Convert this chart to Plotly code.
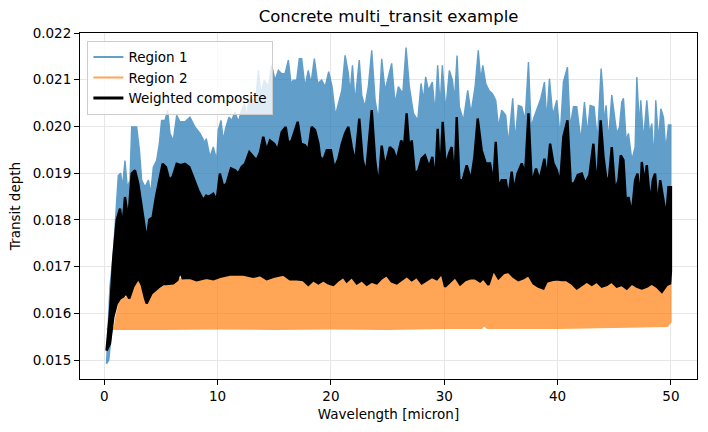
import plotly.graph_objects as go

# ---------------- data ----------------
# Region 1: upper envelope of the dense spectrum
R1_UP_X = [0.2, 0.5, 0.8, 1.1, 1.24, 1.45, 1.6, 1.83, 2.03, 2.27, 2.42, 2.86, 3.1, 3.3, 3.6, 3.9,
           4.09, 4.33, 4.62, 4.86, 5.06, 5.36, 5.59, 5.8, 6.09, 6.39, 6.68, 7.12, 7.56, 8.0, 8.45,
           8.89, 9.0, 9.33, 9.62, 9.92, 10.06, 10.3, 10.5, 10.7, 11.0, 11.24, 11.54, 11.83, 12.07,
           12.36, 12.57, 12.77, 13.0, 13.3, 13.6, 13.83, 14.12, 14.48, 14.77, 15.07, 15.36, 15.66,
           15.95, 16.24, 16.48, 16.68, 16.98, 17.21, 17.42, 17.71, 18.0, 18.24, 18.54, 18.83, 19.18,
           19.5, 19.8, 20.1, 20.4, 20.66, 20.96, 21.25, 21.54, 21.69, 21.9, 22.13, 22.5, 22.72, 23.0,
           23.3, 23.6, 23.9, 24.2, 24.48, 24.77, 25.07, 25.36, 25.66, 25.95, 26.34, 26.63, 26.92,
           27.28, 27.66, 27.95, 28.16, 28.36, 28.6, 28.95, 29.19, 29.42, 29.63, 29.83, 30.13, 30.45,
           30.72, 30.9, 31.13, 31.33, 31.69, 32.07, 32.36, 32.72, 33.0, 33.22, 33.4, 33.66, 33.95,
           34.25, 34.54, 34.78, 35.07, 35.42, 35.66, 36.04, 36.25, 36.54, 36.84, 37.13, 37.43, 37.66,
           37.93, 38.22, 38.52, 38.84, 39.04, 39.28, 39.57, 39.93, 40.22, 40.51, 40.87, 41.1, 41.4,
           41.69, 42.05, 42.37, 42.63, 42.87, 43.22, 43.51, 43.84, 43.99, 44.1, 44.28, 44.49, 44.78,
           44.99, 45.22, 45.46, 45.66, 45.81, 46.05, 46.25, 46.55, 46.84, 46.99, 47.22, 47.34, 47.58,
           47.87, 48.11, 48.31, 48.52, 48.66, 48.9, 49.11, 49.34, 49.55, 49.78, 49.99]
R1_UP_Y = [0.01492, 0.01657, 0.01728, 0.01842, 0.01895, 0.0190, 0.0187, 0.01927, 0.0187, 0.01885,
           0.01999, 0.01999, 0.0195, 0.01885, 0.0187, 0.01885, 0.01856, 0.01913, 0.01927, 0.01963,
           0.02013, 0.02013, 0.02035, 0.01985, 0.0197, 0.02024, 0.0201, 0.0201, 0.0202, 0.01999,
           0.01985, 0.01965, 0.01974, 0.01935, 0.01956, 0.01928, 0.01992, 0.02013, 0.0197, 0.01995,
           0.0202, 0.02013, 0.02031, 0.0201, 0.02031, 0.02049, 0.0202, 0.02056, 0.02063, 0.02042,
           0.0212, 0.0207, 0.02099, 0.02085, 0.02131, 0.02099, 0.0212, 0.02113, 0.02113, 0.02142,
           0.02092, 0.02099, 0.02099, 0.02145, 0.02145, 0.02085, 0.0212, 0.02092, 0.02145, 0.02092,
           0.02099, 0.02085, 0.02117, 0.02085, 0.02024, 0.02049, 0.02077, 0.02152, 0.02113, 0.0207,
           0.02131, 0.02052, 0.02142, 0.02067, 0.02042, 0.02085, 0.02163, 0.02056, 0.02013, 0.02145,
           0.02077, 0.02106, 0.02135, 0.02049, 0.02085, 0.0207, 0.02169, 0.02085, 0.02028, 0.02013,
           0.02092, 0.02056, 0.02106, 0.02077, 0.02095, 0.02028, 0.02131, 0.02042, 0.02131, 0.02035,
           0.0212, 0.02099, 0.02056, 0.02152, 0.02042, 0.02013, 0.02077, 0.02028, 0.02085, 0.02163,
           0.02099, 0.02131, 0.02092, 0.02077, 0.0207, 0.02056, 0.01999, 0.02035, 0.02024, 0.01963,
           0.0206, 0.0197, 0.02045, 0.02042, 0.02013, 0.02138, 0.01999, 0.0202, 0.02042, 0.0206,
           0.02095, 0.02013, 0.02102, 0.02024, 0.02056, 0.01978, 0.02095, 0.02127, 0.01999, 0.02042,
           0.02042, 0.0197, 0.02052, 0.01985, 0.02045, 0.02042, 0.0197, 0.02124, 0.02077, 0.02006,
           0.02045, 0.0197, 0.02067, 0.02031, 0.01985, 0.01999, 0.02052, 0.0206, 0.0197, 0.01985,
           0.01928, 0.01956, 0.02106, 0.01999, 0.02056, 0.0197, 0.02056, 0.01985, 0.02006, 0.01928,
           0.02056, 0.0197, 0.02038, 0.0202, 0.01949, 0.02003, 0.02003]
# Region 1: lower envelope (mostly hidden behind the composite)
R1_LO_X = [0.2, 0.4, 0.8, 1.2, 2.0, 10.0, 20.0, 30.0, 40.0, 49.99]
R1_LO_Y = [0.01492, 0.0150, 0.0160, 0.0168, 0.0170, 0.0170, 0.0170, 0.0170, 0.0170, 0.0170]

# Region 2: upper and lower envelopes
R2_UP_X = [0.2, 0.9, 1.03, 1.39, 1.98, 2.56, 3.0, 3.3, 3.74, 4.18, 4.92, 5.8, 6.68, 7.86, 9.0,
           10.0, 12.0, 14.0, 16.0, 18.0, 20.0, 22.0, 24.0, 26.0, 28.0, 30.0, 32.0, 34.0, 36.0,
           38.0, 40.0, 42.0, 44.0, 46.0, 48.0, 49.9, 50.0]
R2_UP_Y = [0.01566, 0.0157, 0.01592, 0.01628, 0.01635, 0.0165, 0.01674, 0.01657, 0.0162, 0.01642,
           0.01653, 0.01664, 0.01674, 0.01678, 0.0168, 0.01682, 0.01684, 0.01686, 0.01684, 0.01682,
           0.01683, 0.01681, 0.01684, 0.01683, 0.01682, 0.01685, 0.01682, 0.01684, 0.01686, 0.01683,
           0.01684, 0.01682, 0.01684, 0.01683, 0.01682, 0.01681, 0.01700]
R2_LO_X = [0.2, 5.0, 10.0, 15.0, 20.0, 25.0, 30.0, 33.3, 33.5, 33.8, 40.0, 45.0, 49.7, 50.0]
R2_LO_Y = [0.01566, 0.01566, 0.01567, 0.01566, 0.01567, 0.01566, 0.01568, 0.01568, 0.01574, 0.01568,
           0.01568, 0.0157, 0.01572, 0.01582]

# Weighted composite: upper and lower envelopes
WC_UP_X = [0.2, 0.5, 0.8, 1.1, 1.39, 1.6, 1.83, 2.12, 2.42, 2.71, 3.0, 3.3, 3.6, 3.74, 3.97, 4.27,
           4.56, 4.86, 5.15, 5.44, 5.74, 6.03, 6.39, 6.74, 7.12, 7.5, 7.86, 8.3, 8.74, 9.0, 9.18,
           9.62, 9.92, 10.2, 10.5, 10.8, 11.18, 11.54, 11.83, 12.12, 12.42, 12.8, 13.15, 13.45,
           13.74, 14.03, 14.33, 14.62, 15.0, 15.3, 15.66, 16.01, 16.24, 16.54, 17.07, 17.36, 17.71,
           18.0, 18.3, 18.6, 18.9, 19.04, 19.33, 19.63, 20.0, 20.3, 20.66, 20.96, 21.25, 21.54,
           21.84, 22.13, 22.5, 22.8, 23.1, 23.3, 23.6, 23.9, 24.2, 24.48, 24.77, 25.2, 25.5, 25.8,
           26.2, 26.45, 26.68, 26.92, 27.13, 27.4, 27.72, 28.0, 28.3, 28.66, 28.95, 29.19, 29.42,
           29.63, 29.86, 30.13, 30.42, 30.66, 30.9, 31.1, 31.33, 31.63, 31.98, 32.36, 32.66, 32.95,
           33.3, 33.66, 34.04, 34.33, 34.54, 34.78, 35.07, 35.42, 35.66, 35.95, 36.15, 36.46, 36.84,
           37.13, 37.43, 37.72, 38.1, 38.4, 38.6, 38.84, 39.04, 39.34, 39.63, 39.93, 40.22, 40.51,
           40.87, 41.16, 41.46, 41.78, 42.13, 42.43, 42.81, 43.16, 43.46, 43.8, 44.05, 44.28, 44.49,
           44.78, 45.07, 45.37, 45.57, 45.81, 46.05, 46.25, 46.55, 46.84, 47.05, 47.28, 47.43,
           47.66, 47.87, 48.17, 48.4, 48.6, 48.81, 49.05, 49.34, 49.58, 49.78, 50.0]
WC_UP_Y = [0.0152, 0.016, 0.0172, 0.018, 0.01824, 0.01785, 0.01849, 0.018, 0.01899, 0.01906,
           0.01878, 0.01828, 0.01778, 0.01756, 0.018, 0.01806, 0.01849, 0.01885, 0.0192, 0.01913,
           0.01885, 0.01892, 0.0192, 0.01917, 0.0192, 0.01913, 0.01892, 0.01863, 0.01842, 0.01852,
           0.01849, 0.01856, 0.01842, 0.01899, 0.01871, 0.01878, 0.0191, 0.01906, 0.01899, 0.01913,
           0.0192, 0.01945, 0.01935, 0.01928, 0.01945, 0.01978, 0.01949, 0.0197, 0.01963, 0.01949,
           0.01988, 0.01999, 0.01963, 0.0197, 0.0201, 0.01963, 0.0196, 0.01949, 0.01999, 0.01992,
           0.01963, 0.01935, 0.01928, 0.01949, 0.01949, 0.0191, 0.01931, 0.01963, 0.01985, 0.01999,
           0.01956, 0.01921, 0.02017, 0.01928, 0.01899, 0.01949, 0.02035, 0.01928, 0.0187, 0.01959,
           0.01913, 0.01956, 0.01949, 0.01928, 0.0197, 0.01956, 0.02028, 0.01949, 0.0197, 0.01899,
           0.01906, 0.01931, 0.01938, 0.01913, 0.01935, 0.01878, 0.01995, 0.01885, 0.0201, 0.01913,
           0.01942, 0.01956, 0.01878, 0.0202, 0.01885, 0.01885, 0.01917, 0.01885, 0.01935, 0.02017,
           0.01949, 0.01921, 0.01921, 0.01878, 0.01967, 0.0187, 0.01885, 0.01885, 0.01849, 0.01903,
           0.01862, 0.01899, 0.01921, 0.01896, 0.02028, 0.01878, 0.0191, 0.01885, 0.01906, 0.01931,
           0.01885, 0.01963, 0.01921, 0.01906, 0.01878, 0.01978, 0.02013, 0.01878, 0.01878, 0.01896,
           0.01899, 0.01878, 0.01896, 0.01963, 0.01863, 0.02013, 0.01935, 0.01892, 0.01878, 0.01956,
           0.01863, 0.01885, 0.01938, 0.01928, 0.01828, 0.01849, 0.01813, 0.01885, 0.01899, 0.01842,
           0.01924, 0.01878, 0.01917, 0.01835, 0.01885, 0.01899, 0.01828, 0.01885, 0.01842, 0.01806,
           0.0187, 0.0187]
WC_LO_X = [0.2, 0.5, 0.8, 1.1, 1.39, 1.68, 1.92, 2.21, 2.56, 3.0, 3.3, 3.6, 3.74, 4.18, 4.77, 5.21,
           6.09, 6.45, 6.68, 6.92, 7.56, 8.15, 9.03, 9.62, 10.21, 11.09, 12.27, 13.15, 13.74, 14.33,
           14.92, 15.8, 16.39, 16.98, 17.56, 18.0, 18.45, 18.89, 19.33, 19.77, 20.21, 20.66, 21.1,
           21.39, 21.84, 22.28, 22.72, 23.16, 23.6, 24.04, 24.48, 24.92, 25.36, 25.8, 26.25, 26.69,
           27.13, 27.57, 28.01, 28.46, 28.9, 29.34, 29.78, 30.07, 30.51, 30.96, 31.4, 31.84, 32.28,
           32.72, 33.16, 33.45, 33.9, 34.34, 34.78, 35.22, 35.66, 36.1, 36.54, 36.99, 37.43, 37.87,
           38.31, 38.75, 39.04, 39.49, 39.93, 40.37, 40.81, 41.25, 41.69, 42.13, 42.57, 43.02, 43.46,
           43.9, 44.34, 44.78, 45.22, 45.66, 46.1, 46.55, 46.99, 47.43, 47.87, 48.31, 48.75, 49.2,
           49.64, 49.93, 50.0]
WC_LO_Y = [0.0152, 0.01535, 0.01592, 0.0162, 0.01632, 0.01636, 0.01643, 0.01632, 0.01657, 0.01675,
           0.01661, 0.01632, 0.01621, 0.01643, 0.01655, 0.01662, 0.01664, 0.01671, 0.01689, 0.01675,
           0.01676, 0.01671, 0.01676, 0.01673, 0.01678, 0.01683, 0.01683, 0.01678, 0.01682, 0.01673,
           0.01678, 0.01683, 0.01673, 0.01673, 0.01671, 0.01661, 0.01671, 0.01664, 0.01671, 0.01664,
           0.01661, 0.01671, 0.01678, 0.01668, 0.01678, 0.01664, 0.01671, 0.01661, 0.01668, 0.01664,
           0.01675, 0.01682, 0.01668, 0.01664, 0.01673, 0.0168, 0.01671, 0.01678, 0.01664, 0.01671,
           0.01678, 0.01673, 0.01686, 0.01657, 0.01668, 0.01678, 0.01662, 0.01671, 0.01675, 0.01675,
           0.01668, 0.01675, 0.01661, 0.01693, 0.01675, 0.01686, 0.01689, 0.01678, 0.01671, 0.01675,
           0.01682, 0.01664, 0.01657, 0.01653, 0.01668, 0.01671, 0.01673, 0.01671, 0.01671, 0.01664,
           0.01653, 0.01661, 0.01668, 0.01661, 0.01668, 0.01657, 0.01661, 0.01668, 0.01657, 0.01661,
           0.01653, 0.01664, 0.01657, 0.01653, 0.01657, 0.01664, 0.01657, 0.01646, 0.01661, 0.01664,
           0.01690]

SERIES_NAMES = ["Region 1", "Region 2", "Weighted composite"]
X_TICKS = [0, 10, 20, 30, 40, 50]
Y_TICKS = [0.015, 0.016, 0.017, 0.018, 0.019, 0.020, 0.021, 0.022]

# ---------------- styling ----------------
C_BLUE = "#1f77b4"
C_ORANGE = "#ff7f0e"
C_BLACK = "#000000"
FONT = "DejaVu Sans"


def band(xu, yu, xl, yl):
    return list(xu) + list(reversed(xl)), list(yu) + list(reversed(yl))


fig = go.Figure()

bx, by = band(R1_UP_X, R1_UP_Y, R1_LO_X, R1_LO_Y)
fig.add_trace(go.Scatter(x=bx, y=by, mode="lines", fill="toself", fillcolor=C_BLUE,
                         line=dict(color=C_BLUE, width=1.4), opacity=0.7,
                         showlegend=False, hoverinfo="skip"))
ox, oy = band(R2_UP_X, R2_UP_Y, R2_LO_X, R2_LO_Y)
fig.add_trace(go.Scatter(x=ox, y=oy, mode="lines", fill="toself", fillcolor=C_ORANGE,
                         line=dict(color=C_ORANGE, width=1.4), opacity=0.7,
                         showlegend=False, hoverinfo="skip"))
kx, ky = band(WC_UP_X, WC_UP_Y, WC_LO_X, WC_LO_Y)
fig.add_trace(go.Scatter(x=kx, y=ky, mode="lines", fill="toself", fillcolor=C_BLACK,
                         line=dict(color=C_BLACK, width=2.4),
                         showlegend=False, hoverinfo="skip"))

# legend entries
for name, col, w, op in [(SERIES_NAMES[0], C_BLUE, 2, 0.7),
                         (SERIES_NAMES[1], C_ORANGE, 2, 0.7),
                         (SERIES_NAMES[2], C_BLACK, 2.8, 1.0)]:
    fig.add_trace(go.Scatter(x=[None], y=[None], mode="lines", name=name,
                             line=dict(color=col, width=w), opacity=op))

axis_common = dict(showline=True, mirror=True, linecolor="black", linewidth=1,
                   ticks="outside", ticklen=5, tickwidth=1, tickcolor="black",
                   showgrid=True, gridcolor="#e6e6e6", gridwidth=1, zeroline=False,
                   tickfont=dict(family=FONT, size=13.5, color="black"))

fig.update_layout(
    width=708, height=432,
    margin=dict(l=80, r=11, t=33, b=53),
    paper_bgcolor="white", plot_bgcolor="white",
    font=dict(family=FONT, size=13.5, color="black"),
    title=dict(text="Concrete multi_transit example", x=0.5, xref="paper",
               y=1 - 16 / 432, yref="container", yanchor="middle",
               font=dict(family=FONT, size=16.5, color="black")),
    xaxis=dict(range=[-2.14, 52.3], tickvals=X_TICKS,
               title=dict(text="Wavelength [micron]", standoff=6,
                          font=dict(family=FONT, size=13.5)),
               **axis_common),
    yaxis=dict(range=[0.014594, 0.0220], tickvals=Y_TICKS, tickformat=".3f",
               title=dict(text="Transit depth", standoff=8,
                          font=dict(family=FONT, size=13.5)),
               **axis_common),
    legend=dict(x=0.012, y=0.978, xanchor="left", yanchor="top",
                bgcolor="rgba(255,255,255,0.8)", bordercolor="#cccccc", borderwidth=1,
                font=dict(family=FONT, size=13.5), tracegroupgap=0),
)

fig.write_html("out.html", config={"displayModeBar": False},
               post_script="document.body.style.margin='0';document.body.style.overflow='hidden';")
